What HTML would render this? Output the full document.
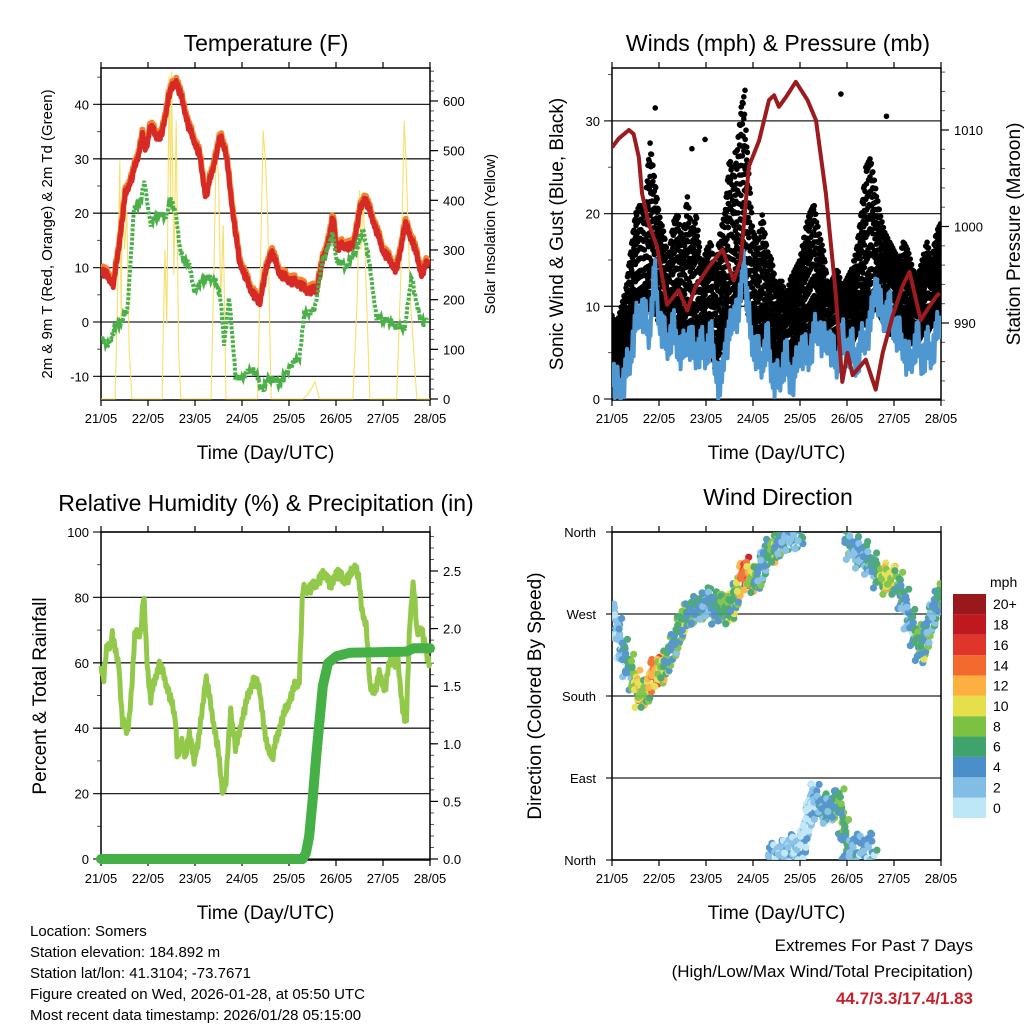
<!DOCTYPE html>
<html><head><meta charset="utf-8"><style>
html,body{margin:0;padding:0;background:#fff;}
svg{display:block;font-family:"Liberation Sans",sans-serif;}
</style></head><body>
<svg id="chart" width="1024" height="1024" viewBox="0 0 1024 1024">
<defs>
<clipPath id="c1"><rect x="101" y="68" width="329" height="332"/></clipPath>
<clipPath id="c2"><rect x="612" y="68" width="329" height="332"/></clipPath>
<clipPath id="c3"><rect x="101" y="532" width="329" height="328"/></clipPath>
<clipPath id="c4"><rect x="612" y="532" width="329" height="328"/></clipPath>
</defs>
</svg>
<script>
// ---- data ----
const dayLabels=["21/05","22/05","23/05","24/05","25/05","26/05","27/05","28/05"];
const tDays=[0.02,0.16,0.27,0.38,0.52,0.66,0.80,0.88,0.95,1.05,1.20,1.30,1.45,1.60,1.73,1.87,2.09,2.23,2.37,2.55,2.66,2.80,2.94,3.16,3.37,3.48,3.62,3.80,4.01,4.22,4.37,4.58,4.72,4.86,4.94,5.01,5.15,5.36,5.51,5.61,5.79,6.00,6.29,6.47,6.65,6.82,6.97];
const tempVals=[9.5,8.3,7,14,23.6,26.7,31,34.3,31.6,36,34,34.6,42,44.4,40.7,35.8,31,23,28,34.3,31,20.6,11.4,6.5,3.4,8.3,13.2,9,7.7,7.1,5.9,5.9,11.4,15.7,19.3,13.8,14.1,13.8,20.6,23,18.7,13.2,9.5,18.1,14.4,8.9,11.4];
const dDays=[0.02,0.13,0.31,0.45,0.56,0.70,0.84,0.93,1.05,1.23,1.37,1.48,1.59,1.69,1.87,1.98,2.23,2.44,2.55,2.62,2.73,2.87,3.01,3.23,3.44,3.58,3.80,4.01,4.22,4.33,4.54,4.72,4.94,5.01,5.22,5.43,5.58,5.72,5.86,6.08,6.29,6.47,6.61,6.72,6.86,6.97];
const dewVals=[-2.7,-4.5,-0.9,0.4,2.2,20.5,22.4,25.7,18.1,19.9,19.3,22.4,20.5,12.6,10.8,5.9,8.3,7.7,4,-3.9,4.6,-10.6,-10,-8.5,-12.5,-10,-11.3,-8.2,-6.4,1.6,2.2,11.4,16.3,11.4,10.2,13.2,17.5,10.2,1,0.4,-0.9,-0.9,8.9,2.8,-0.2,0.4];
const solarDays=[0,0.3,0.35,0.4,0.43,0.45,0.5,0.55,0.6,0.66,1.3,1.36,1.4,1.45,1.48,1.5,1.55,1.6,1.65,1.7,2.34,2.4,2.45,2.5,2.55,2.6,2.66,3.33,3.4,3.45,3.5,3.55,3.62,4.3,4.4,4.5,4.55,4.65,5.36,5.45,5.5,5.53,5.58,5.65,5.72,6.29,6.38,6.45,6.5,6.58,6.65,6.72,7];
const solarVals=[0,0,200,480,150,420,300,380,100,0,0,300,150,650,400,660,250,560,100,0,0,250,500,450,200,350,0,0,300,540,480,350,0,0,10,25,35,0,0,200,420,300,400,200,0,0,250,560,450,200,100,0,0];
const presDays=[0,0.14,0.36,0.46,0.57,0.64,0.78,0.96,1.17,1.42,1.60,1.78,2.06,2.35,2.59,2.74,2.91,3.13,3.34,3.45,3.55,3.70,3.91,4.16,4.34,4.55,4.76,4.90,5.01,5.12,5.40,5.61,5.76,5.97,6.18,6.33,6.57,6.75,6.89,6.97];
const presVals=[1008.2,1009.1,1010,1009.6,1007.2,1003.4,1000.3,997.9,991.9,993.4,991.3,993.8,995.8,997.6,994.4,996.5,1006.2,1008.9,1013.1,1013.6,1012.4,1013.4,1015,1013.1,1011,1003.4,993.1,983.9,986.9,984.6,986.2,983.1,986.9,990.7,993.8,995.3,990.3,991.7,992.7,993.1];
const windVals=[3.5,1.5,1.5,3,5,8,10,9,7,14,9,7,6,8,6,5,7,6,5,6,5,7,4,1,6,7,10,9,16,9,6,5,4,7,3,2,3,5,2,3,6,5,5,7,8,6,7,5,4,7,5,6,4,6,7,8,13,10,9,10,8,7,6,4,5,7,4,6,5,7,9];
const gustMax=[9,8,10,12,16,20,21,20,28,24,20,18,15,19,20,17,22,18,20,14,16,17,14,18,20,26,24,29,33,25,18,17,20,16,15,12,13,11,13,14,15,18,20,21,18,16,12,13,14,12,13,14,16,20,25,26,23,20,18,17,16,15,17,16,14,13,15,17,15,18,19];
const gustMin=[3,2,3,5,6,8,8,9,10,10,8,8,6,7,7,6,6,7,6,5,6,6,3,5,7,8,9,10,12,9,7,6,6,5,4,3,4,4,3,4,5,6,6,7,7,6,5,5,5,5,6,6,7,8,8,9,10,9,8,7,7,6,7,6,6,6,7,7,8,8,9];
const gustOutDays=[0.92,1.7,1.98,2.62,2.75,2.83,4.87,5.84,4.16];
const gustOutVals=[31.4,27,28,26.6,31.5,33.3,32.9,30.5,15.9];
const rhDays=[0,0.06,0.13,0.2,0.24,0.31,0.38,0.45,0.56,0.63,0.73,0.84,0.91,0.98,1.05,1.23,1.34,1.45,1.59,1.62,1.73,1.80,1.87,1.98,2.09,2.23,2.34,2.48,2.59,2.66,2.76,2.87,3.01,3.23,3.37,3.51,3.65,3.80,4.01,4.12,4.22,4.29,4.51,4.65,4.79,4.90,5.01,5.15,5.29,5.40,5.47,5.54,5.65,5.72,5.83,5.93,6.04,6.15,6.32,6.43,6.50,6.57,6.65,6.72,6.82,6.93,7.0];
const rhVals=[59,56,65,66,69,63,60,42.7,38.6,47.8,70,69,81,61,48.8,60,56,50.8,42.7,32.5,35.6,31.5,38.6,30.5,37.6,56,46.7,34.6,20.3,24.4,45.7,33.5,43.7,54.9,52.8,35.6,31.5,40.7,48.8,52.8,54.9,82.3,83.3,85.9,87.4,83.3,88.4,85.4,86.4,89.9,87.4,77.2,71.1,52.8,51.8,56.9,51.8,61,60,44.7,42.7,73.2,85.4,69.1,71.1,62,60];
const rainDays=[0,4.29,4.36,4.43,4.5,4.58,4.72,4.83,5.01,5.29,6.5,6.65,7.0];
const rainVals=[0,0,0.05,0.2,0.5,0.9,1.5,1.7,1.76,1.79,1.8,1.83,1.83];
const dirADays=[0.04,0.14,0.28,0.43,0.57,0.71,0.89,1.03,1.17,1.35,1.49,1.71,1.92,2.06,2.2,2.35,2.53,2.63,2.81,2.95,3.13,3.27,3.45,3.59,3.77,3.99];
const dirAVals=[271,245,220,205,183,183,208,205,220,241,263,274,278,285,274,278,274,293,318,307,311,337,340,351,355,357];
const dirASpd=[2,3,5,7,13,8,16,11,8,6,9,6,6,5,6,8,9,7,17,12,6,5,10,6,4,4];
const dirBDays=[4.98,5.2,5.41,5.62,5.84,6.05,6.19,6.33,6.48,6.58,6.73,6.87,6.98];
const dirBVals=[351,337,333,315,307,307,289,263,245,227,256,278,289];
const dirBSpd=[6,4,5,6,12,9,6,4,7,8,6,5,7];
const dirCDays=[3.35,3.59,3.81,4.02,4.16,4.27,4.41,4.63,4.84,4.95,5.02,5.16,5.52];
const dirCVals=[3.6,5,14,11,44,73,58,55,66,29,3.6,14,14];
const dirCSpd=[4,3,3,3,2,3,5,5,7,7,6,4,4];
const cbLabels=["0","2","4","6","8","10","12","14","16","18","20+"];
const cbColors=["#bde6f7","#82bde5","#4a8fc9","#3fa46c","#7cc142","#e6df4c","#fbb040","#f26a2e","#e0352b","#c0181f","#99181c"];

// ---- helpers ----
const NS="http://www.w3.org/2000/svg";
const svg=document.getElementById('chart');
function el(tag,attrs,parent){const e=document.createElementNS(NS,tag);for(const k in attrs)e.setAttribute(k,attrs[k]);(parent||svg).appendChild(e);return e;}
function txt(s,x,y,size,anchor,parent,extra){const t=el('text',Object.assign({x:x,y:y,'font-size':size,'text-anchor':anchor||'middle',fill:'#000'},extra||{}),parent);t.textContent=s;return t;}
function interp(ds,vs,d){if(d<=ds[0])return vs[0];for(let i=1;i<ds.length;i++){if(d<=ds[i]){const f=(d-ds[i-1])/(ds[i]-ds[i-1]);return vs[i-1]+f*(vs[i]-vs[i-1]);}}return vs[vs.length-1];}
function pathFrom(ds,vs,xf,yf){return ds.map((d,i)=>(i?'L':'M')+xf(d).toFixed(1)+','+yf(vs[i]).toFixed(1)).join('');}

function frame(x0,x1,y0,y1,name){
  const g=el('g',{});
  
  
  for(let i=0;i<=7;i++){
    const x=x0+i*(x1-x0)/7;
    el('line',{x1:x,y1:y0,x2:x,y2:y0-6,stroke:'#000','stroke-width':1.2},g);
    el('line',{x1:x,y1:y1,x2:x,y2:y1+6,stroke:'#000','stroke-width':1.2},g);
    const t=txt(dayLabels[i],x,y1+23,13,'middle',g);
    
    
  }
  const xt=txt('Time (Day/UTC)',(x0+x1)/2,y1+59,19,'middle',g);
  
  
  return g;
}
function yAxis(g,side,x0,x1,ticks,labels,minor,yf,name){
  const x=side==='left'?x0:x1, s=side==='left'?-1:1;
  minor.forEach(v=>{const y=yf(v);el('line',{x1:x,y1:y,x2:x+s*4,y2:y,stroke:'#555','stroke-width':1},g);});
  ticks.forEach((v,i)=>{const y=yf(v);
    if(side==='left') el('line',{x1:x0-8,y1:y,x2:x1,y2:y,stroke:'#222','stroke-width':1.3},g);
    else el('line',{x1:x1,y1:y,x2:x1+8,y2:y,stroke:'#000','stroke-width':1.2},g);
    const t=txt(labels[i],side==='left'?x0-12:x1+13,y+5,13,side==='left'?'end':'start',g);
    
    
  });
}
function rotTitle(s,x,y,size,name){const t=txt(s,x,y,size,'middle',svg,{transform:`rotate(-90 ${x} ${y})`});
  
  }
function title(s,x,y,name){const t=txt(s,x,y,23,'middle');
  
  }
function range(a,b,st){const r=[];for(let v=a;v<=b+1e-9;v+=st)r.push(+v.toFixed(4));return r;}
const jit=[0,-1.6,1.1,-2.2,1.6,-0.6,2.0,-1.2,0.6,-1.9];
function jag(ds,vs,step,amp){const od=[],ov=[];const n=Math.round(7/step);
  for(let k=0;k<=n;k++){const d=k*step;if(d<ds[0]||d>ds[ds.length-1])continue;od.push(d);ov.push(interp(ds,vs,d)+amp*jit[k%jit.length]);}
  return [od,ov];}

// ===== Panel 1: Temperature =====
{
const X=d=>101+d*47, YT=v=>322-v*5.44, YS=v=>399-v*0.4967;
const g=frame(101,430,68,400,'temperature');
yAxis(g,'left',101,430,[-10,0,10,20,30,40],['-10','0','10','20','30','40'],range(-10,45,5),YT,'temp-left');
yAxis(g,'right',101,430,[0,100,200,300,400,500,600],['0','100','200','300','400','500','600'],range(0,660,20),YS,'solar-right');
const c=el('g',{'clip-path':'url(#c1)'});
const sol=el('path',{d:pathFrom(solarDays,solarVals,X,YS),fill:'none',stroke:'#f7df6a','stroke-width':1.1},c);


const [td,tv]=jag(tDays,tempVals,0.02,0.35);
const tp9=el('path',{d:pathFrom(td,tv.map(v=>v+0.5),X,YT),fill:'none',stroke:'#f2842e','stroke-width':6,'stroke-linejoin':'round'},c);


const tp=el('path',{d:pathFrom(td,tv,X,YT),fill:'none',stroke:'#d52a26','stroke-width':5,'stroke-linejoin':'round'},c);


const [dd,dv]=jag(dDays,dewVals,0.02,0.3);
const dw=el('path',{d:pathFrom(dd,dv,X,YT),fill:'none',stroke:'#4bb04a','stroke-width':4,'stroke-dasharray':'3 1.6'},c);


el('rect',{x:101,y:68,width:329,height:332,fill:'none',stroke:'#000','stroke-width':1.5},g);
title('Temperature (F)',266,51,'temperature-title');
rotTitle('2m & 9m T (Red, Orange) & 2m Td (Green)',52,234,15,'temp-y-title');
rotTitle('Solar Insolation (Yellow)',495,234,15,'solar-y-title');
}

// ===== Panel 2: Winds & Pressure =====
{
const X=d=>612+d*47, YW=v=>399-v*9.27, YP=p=>323-(p-990)*9.65;
const g=frame(612,941,68,400,'winds');
yAxis(g,'left',612,941,[0,10,20,30],['0','10','20','30'],range(0,35,5),YW,'wind-left');
yAxis(g,'right',612,941,[990,1000,1010],['990','1000','1010'],range(982,1016,2),YP,'pressure-right');
const c=el('g',{'clip-path':'url(#c2)'});
const gd=el('g',{fill:'#000'},c);


const wDays=windVals.map((v,i)=>i*0.1);
const fr=[0,0.5,0.1,0.75,0.25,0.9,0.35,1.0,0.05,0.6,0.18,0.45,0.82,0.3,0.68,0.97,0.12];
for(let k=0;k<=467;k++){
  const d=k*0.015, mx=interp(wDays,gustMax,d), mn=interp(wDays,gustMin,d);
  for(let j=0;j<8;j++){const f=fr[(k*8+j)%fr.length];const v=mn+(mx-mn)*Math.pow(f,1.15);
    el('circle',{cx:X(d).toFixed(1),cy:YW(v).toFixed(1),r:2.8},gd);}
}
gustOutDays.forEach((d,i)=>el('circle',{cx:X(d),cy:YW(gustOutVals[i]),r:2.8},gd));
const [bd,bv]=jag(wDays,windVals,0.02,1.0);
const wl=el('path',{d:pathFrom(bd,bv,X,YW),fill:'none',stroke:'#4f97d0','stroke-width':4,'stroke-linejoin':'round'},c);


const pl=el('path',{d:pathFrom(presDays,presVals,X,YP),fill:'none',stroke:'#9b1b1e','stroke-width':4,'stroke-linejoin':'round'},c);


el('rect',{x:612,y:68,width:329,height:332,fill:'none',stroke:'#000','stroke-width':1.5},g);
title('Winds (mph) & Pressure (mb)',778,51,'winds-title');
rotTitle('Sonic Wind & Gust (Blue, Black)',563,234,19,'wind-y-title');
rotTitle('Station Pressure (Maroon)',1020,234,19,'pressure-y-title');
}

// ===== Panel 3: RH & Precip =====
{
const X=d=>101+d*47, YH=v=>859-v*3.27, YR=v=>859-v*115.2;
const g=frame(101,430,532,860,'humidity');
yAxis(g,'left',101,430,[0,20,40,60,80,100],['0','20','40','60','80','100'],range(0,100,10),YH,'rh-left');
yAxis(g,'right',101,430,[0,0.5,1,1.5,2,2.5],['0.0','0.5','1.0','1.5','2.0','2.5'],range(0,2.8,0.1),YR,'rain-right');
const c=el('g',{});
const [hd,hv]=jag(rhDays,rhVals,0.02,0.8);
const rl=el('path',{d:pathFrom(hd,hv,X,YH),fill:'none',stroke:'#93c94a','stroke-width':5,'stroke-linejoin':'round'},c);


const pr=el('path',{d:pathFrom(rainDays,rainVals,X,YR),fill:'none',stroke:'#45b046','stroke-width':10,'stroke-linejoin':'round','stroke-linecap':'round'},c);


el('rect',{x:101,y:532,width:329,height:328,fill:'none',stroke:'#000','stroke-width':1.5},g);
title('Relative Humidity (%) & Precipitation (in)',266,511,'humidity-title');
rotTitle('Percent & Total Rainfall',46,696,19,'rh-y-title');
}

// ===== Panel 4: Wind direction =====
{
const X=d=>612+d*47, YD=v=>860-v*0.9111;
const g=frame(612,941,532,860,'direction');
const dl=['North','East','South','West','North'];
[0,90,180,270,360].forEach((v,i)=>{const y=YD(v);el('line',{x1:606,y1:y,x2:941,y2:y,stroke:'#222','stroke-width':1.3},g);
  const t=txt(dl[i],596,y+5,13,'end',g);
  
  });
const c=el('g',{'clip-path':'url(#c4)'});
const pts=el('g',{opacity:0.92},c);


const oy=[-9,5,-2,12,0,-6,8,-13,3,14,-4,9,-11,2,6,-7,11,-1,-14,4];
const ox=[0,3,-2,1,-3,0,2,-1,4,-4];
const sp=[0,1.5,-1.5,2.5,-1,0.5,-2.5,1,2,-2];
function track(ds,vs,ss){
  for(let i=0;i<ds.length;i++){
    const last=i===ds.length-1, n=last?6:22;
    for(let k=0;k<n;k++){
      const f=k/22, d=!last?ds[i]+f*(ds[i+1]-ds[i]):ds[i]+k*0.008;
      const v=!last?vs[i]+f*(vs[i+1]-vs[i]):vs[i];
      const s=!last?ss[i]+f*(ss[i+1]-ss[i]):ss[i];
      const idx=i*22+k;
      const bin=Math.max(0,Math.min(10,Math.floor((s+sp[idx%sp.length])/2)));
      el('circle',{cx:(X(d)+ox[idx%ox.length]).toFixed(1),cy:(YD(v)+oy[idx%oy.length]).toFixed(1),r:3.6,fill:cbColors[bin]},pts);
    }
  }
}
track(dirADays,dirAVals,dirASpd);
track(dirBDays,dirBVals,dirBSpd);
track(dirCDays,dirCVals,dirCSpd);
el('rect',{x:612,y:532,width:329,height:328,fill:'none',stroke:'#000','stroke-width':1.5},g);
title('Wind Direction',778,505,'direction-title');
rotTitle('Direction (Colored By Speed)',541,696,19,'direction-y-title');
const cb=el('g',{});


const h=224/11;
cbColors.forEach((col,i)=>{const y=818-(i+1)*h;
  el('rect',{x:953,y:y,width:33,height:h,fill:col},cb);
  const t=txt(cbLabels[i],993,y+h/2+5,14,'start',cb);
  
  });
const m=txt('mph',990,587,14,'start',cb);


}

// ===== footer =====
{
const lines=['Location: Somers','Station elevation: 184.892 m','Station lat/lon: 41.3104; -73.7671','Figure created on Wed, 2026-01-28, at 05:50 UTC','Most recent data timestamp: 2026/01/28 05:15:00'];
lines.forEach((s,i)=>{const t=txt(s,30,936+i*21,15,'start');
  
  });
const a=txt('Extremes For Past 7 Days',973,951,17,'end');


const b=txt('(High/Low/Max Wind/Total Precipitation)',973,977,17,'end');


const v=txt('44.7/3.3/17.4/1.83',973,1004,17,'end',svg,{fill:'#c8202a','font-weight':'bold'});


}
</script>
</body></html>
